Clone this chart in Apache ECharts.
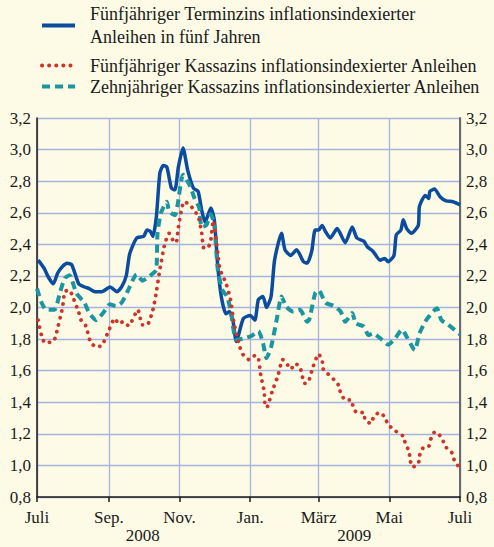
<!DOCTYPE html>
<html>
<head>
<meta charset="utf-8">
<script src="https://cdn.jsdelivr.net/npm/echarts@6/dist/echarts.min.js"></script>
<style>
  html, body { margin: 0; padding: 0; background: #fdfbe6; }
  #chart { width: 494px; height: 547px; }
</style>
</head>
<body>
<div id="chart"></div>
<script>
// Inflationsindexierte Anleihen, Juli 2008 – Juli 2009

const NAMES = [
  'Fünfjähriger Terminzins inflationsindexierter Anleihen in fünf Jahren',
  'Fünfjähriger Kassazins inflationsindexierter Anleihen',
  'Zehnjähriger Kassazins inflationsindexierter Anleihen',
];
const MONTHS = ['Jan.', 'Feb.', 'März', 'Apr.', 'Mai', 'Juni', 'Juli', 'Aug.', 'Sep.', 'Okt.', 'Nov.', 'Dez.'];
const YEARS = ['2008', '2009'];

const forward5y = [
  ['2008-07-02', 2.30], ['2008-07-07', 2.25], ['2008-07-11', 2.19], ['2008-07-15', 2.15],
  ['2008-07-19', 2.22], ['2008-07-23', 2.26], ['2008-07-27', 2.28], ['2008-07-31', 2.27],
  ['2008-08-06', 2.15], ['2008-08-11', 2.13], ['2008-08-15', 2.12], ['2008-08-20', 2.10],
  ['2008-08-26', 2.10], ['2008-09-02', 2.13], ['2008-09-08', 2.10], ['2008-09-12', 2.13],
  ['2008-09-16', 2.20], ['2008-09-19', 2.34], ['2008-09-25', 2.44], ['2008-10-01', 2.45],
  ['2008-10-04', 2.49], ['2008-10-07', 2.48], ['2008-10-09', 2.45], ['2008-10-12', 2.575],
  ['2008-10-15', 2.85], ['2008-10-18', 2.90], ['2008-10-21', 2.89], ['2008-10-25', 2.755],
  ['2008-10-28', 2.745], ['2008-10-31', 2.89], ['2008-11-04', 3.01], ['2008-11-08', 2.87],
  ['2008-11-13', 2.755], ['2008-11-17', 2.735], ['2008-11-20', 2.62], ['2008-11-23', 2.54],
  ['2008-11-25', 2.575], ['2008-11-28', 2.63], ['2008-12-01', 2.555], ['2008-12-04', 2.26],
  ['2008-12-07', 2.07], ['2008-12-11', 1.96], ['2008-12-14', 1.975], ['2008-12-17', 1.92],
  ['2008-12-20', 1.785], ['2008-12-26', 1.93], ['2009-01-01', 1.95], ['2009-01-05', 1.92],
  ['2009-01-08', 2.05], ['2009-01-12', 2.07], ['2009-01-15', 2.00], ['2009-01-19', 2.07],
  ['2009-01-22', 2.30], ['2009-01-28', 2.47], ['2009-01-31', 2.365], ['2009-02-05', 2.33],
  ['2009-02-10', 2.365], ['2009-02-16', 2.29], ['2009-02-19', 2.28], ['2009-02-23', 2.355],
  ['2009-02-26', 2.49], ['2009-03-01', 2.49], ['2009-03-04', 2.52], ['2009-03-07', 2.48],
  ['2009-03-11', 2.44], ['2009-03-17', 2.50], ['2009-03-24', 2.41], ['2009-03-30', 2.51],
  ['2009-04-03', 2.44], ['2009-04-09', 2.42], ['2009-04-12', 2.385], ['2009-04-17', 2.355],
  ['2009-04-23', 2.30], ['2009-04-27', 2.31], ['2009-04-30', 2.29], ['2009-05-05', 2.33],
  ['2009-05-07', 2.46], ['2009-05-11', 2.49], ['2009-05-13', 2.555], ['2009-05-16', 2.50],
  ['2009-05-20', 2.47], ['2009-05-26', 2.52], ['2009-05-27', 2.64], ['2009-06-01', 2.71],
  ['2009-06-04', 2.69], ['2009-06-05', 2.735], ['2009-06-09', 2.75], ['2009-06-14', 2.70],
  ['2009-06-19', 2.675], ['2009-06-25', 2.67], ['2009-07-01', 2.65],
];

const spot5y = [
  ['2008-07-02', 1.92], ['2008-07-05', 1.82], ['2008-07-08', 1.775], ['2008-07-12', 1.78],
  ['2008-07-16', 1.795], ['2008-07-18', 1.845], ['2008-07-23', 2.00], ['2008-07-25', 2.10],
  ['2008-07-29', 2.11], ['2008-08-01', 2.065], ['2008-08-06', 1.97], ['2008-08-08', 1.92],
  ['2008-08-12', 1.885], ['2008-08-16', 1.785], ['2008-08-21', 1.75], ['2008-08-26', 1.76],
  ['2008-09-01', 1.855], ['2008-09-06', 1.93], ['2008-09-10', 1.895], ['2008-09-13', 1.91],
  ['2008-09-18', 1.885], ['2008-09-26', 1.985], ['2008-09-30', 1.89], ['2008-10-04', 1.89],
  ['2008-10-09', 1.985], ['2008-10-12', 2.10], ['2008-10-15', 2.24], ['2008-10-19', 2.395],
  ['2008-10-23', 2.47], ['2008-10-26', 2.43], ['2008-10-29', 2.41], ['2008-10-31', 2.51],
  ['2008-11-05', 2.67], ['2008-11-10', 2.65], ['2008-11-14', 2.61], ['2008-11-17', 2.58],
  ['2008-11-20', 2.48], ['2008-11-22', 2.375], ['2008-11-26', 2.385], ['2008-11-28', 2.43],
  ['2008-11-30', 2.55], ['2008-12-04', 2.345], ['2008-12-06', 2.24], ['2008-12-11', 2.155],
  ['2008-12-15', 2.05], ['2008-12-18', 1.90], ['2008-12-23', 1.75], ['2008-12-26', 1.70],
  ['2008-12-31', 1.67], ['2009-01-05', 1.695], ['2009-01-08', 1.68], ['2009-01-10', 1.575],
  ['2009-01-13', 1.47], ['2009-01-14', 1.37], ['2009-01-16', 1.375], ['2009-01-20', 1.47],
  ['2009-01-25', 1.57], ['2009-01-29', 1.67], ['2009-02-01', 1.65], ['2009-02-05', 1.61],
  ['2009-02-09', 1.645], ['2009-02-13', 1.62], ['2009-02-17', 1.52], ['2009-02-20', 1.525],
  ['2009-02-24', 1.62], ['2009-03-01', 1.705], ['2009-03-04', 1.665], ['2009-03-05', 1.61],
  ['2009-03-09', 1.58], ['2009-03-14', 1.545], ['2009-03-18', 1.51], ['2009-03-20', 1.46],
  ['2009-03-24', 1.415], ['2009-03-29', 1.415], ['2009-03-31', 1.365], ['2009-04-03', 1.335],
  ['2009-04-09', 1.335], ['2009-04-10', 1.29], ['2009-04-15', 1.265], ['2009-04-18', 1.315],
  ['2009-04-23', 1.335], ['2009-04-27', 1.305], ['2009-04-30', 1.26], ['2009-05-05', 1.225],
  ['2009-05-09', 1.205], ['2009-05-13', 1.185], ['2009-05-15', 1.135], ['2009-05-18', 1.09],
  ['2009-05-19', 1.035], ['2009-05-21', 0.99], ['2009-05-26', 1.01], ['2009-05-27', 1.06],
  ['2009-05-30', 1.11], ['2009-06-04', 1.12], ['2009-06-06', 1.17], ['2009-06-09', 1.21],
  ['2009-06-12', 1.205], ['2009-06-16', 1.16], ['2009-06-19', 1.115], ['2009-06-24', 1.08],
  ['2009-06-26', 1.035], ['2009-06-30', 0.99],
];

const spot10y = [
  ['2008-07-01', 2.12], ['2008-07-05', 2.03], ['2008-07-09', 1.985], ['2008-07-16', 1.985],
  ['2008-07-21', 2.10], ['2008-07-25', 2.185], ['2008-07-29', 2.205], ['2008-08-04', 2.09],
  ['2008-08-11', 2.03], ['2008-08-15', 1.965], ['2008-08-21', 1.92], ['2008-08-27', 1.965],
  ['2008-09-02', 2.02], ['2008-09-07', 2.01], ['2008-09-12', 2.03], ['2008-09-17', 2.10],
  ['2008-09-25', 2.21], ['2008-09-30', 2.17], ['2008-10-09', 2.215], ['2008-10-12', 2.24],
  ['2008-10-13', 2.47], ['2008-10-16', 2.60], ['2008-10-21', 2.67], ['2008-10-23', 2.61],
  ['2008-10-28', 2.585], ['2008-10-31', 2.68], ['2008-11-02', 2.785], ['2008-11-04', 2.84],
  ['2008-11-10', 2.77], ['2008-11-14', 2.69], ['2008-11-18', 2.63], ['2008-11-20', 2.51],
  ['2008-11-24', 2.52], ['2008-11-28', 2.59], ['2008-12-01', 2.52], ['2008-12-04', 2.24],
  ['2008-12-08', 2.11], ['2008-12-12', 2.07], ['2008-12-15', 1.985], ['2008-12-20', 1.795],
  ['2008-12-27', 1.805], ['2009-01-02', 1.82], ['2009-01-08', 1.85], ['2009-01-12', 1.775],
  ['2009-01-15', 1.68], ['2009-01-19', 1.75], ['2009-01-24', 1.93], ['2009-01-28', 2.07],
  ['2009-02-01', 2.005], ['2009-02-07', 1.975], ['2009-02-13', 1.985], ['2009-02-19', 1.91],
  ['2009-02-21', 1.925], ['2009-02-26', 2.09], ['2009-03-01', 2.11], ['2009-03-07', 2.03],
  ['2009-03-14', 2.01], ['2009-03-20', 1.975], ['2009-03-24', 1.91], ['2009-03-30', 1.965],
  ['2009-04-02', 1.90], ['2009-04-09', 1.88], ['2009-04-13', 1.825], ['2009-04-17', 1.835],
  ['2009-04-25', 1.795], ['2009-04-30', 1.765], ['2009-05-06', 1.805], ['2009-05-12', 1.86],
  ['2009-05-16', 1.815], ['2009-05-23', 1.73], ['2009-05-27', 1.835], ['2009-06-01', 1.91],
  ['2009-06-05', 1.95], ['2009-06-11', 1.995], ['2009-06-15', 1.92], ['2009-06-21', 1.89],
  ['2009-06-30', 1.835], ['2009-07-01', 1.83],
];

const FONT = '"Liberation Serif", "Times New Roman", serif';
const INK = '#1a1a1a';
const GRID = '#a7b3df';
const BLUE = '#0b4c9f';
const RED = '#cf3429';
const TEAL = '#1b96a0';

const comma = v => v.toFixed(1).replace('.', ',');
const yLabel = { fontFamily: FONT, fontSize: 17, color: INK, margin: 6, formatter: comma };

// legend text: 18px serif, icon drawn as line only (symbol hidden)
const LEGEND_BASE = {
  orient: 'vertical',
  left: 35,
  itemWidth: 33,
  itemHeight: 10,
  itemGap: 0,
  selectedMode: false,
  itemStyle: { opacity: 0 },
  lineStyle: { width: 4 },
  textStyle: { fontFamily: FONT, fontSize: 18, lineHeight: 21, color: INK, padding: [0, 0, 0, 10] },
};

const chart = echarts.init(document.getElementById('chart'), null, { renderer: 'svg' });

chart.setOption({
  backgroundColor: '#fdfbe6',
  animation: false,
  textStyle: { fontFamily: FONT },
  grid: { left: 37, right: 34, top: 118, bottom: 50, outerBoundsMode: 'none' },
  legend: [
    {
      ...LEGEND_BASE,
      top: -14,
      textStyle: { ...LEGEND_BASE.textStyle, lineHeight: 23, padding: [23, 0, 0, 10] },
      data: [NAMES[0]],
      formatter: () => 'Fünfjähriger Terminzins inflationsindexierter\nAnleihen in fünf Jahren',
    },
    {
      ...LEGEND_BASE,
      top: 50,
      data: [NAMES[1], NAMES[2]],
    },
  ],
  xAxis: [
    {
      type: 'time',
      min: '2008-07-01',
      max: '2009-07-01',
      minInterval: 61 * 864e5,
      maxInterval: 80 * 864e5,
      axisLine: { lineStyle: { color: INK, width: 1.5 } },
      axisTick: { show: true, length: 5, lineStyle: { color: INK, width: 1.5 } },
      splitLine: { show: true, lineStyle: { color: GRID, width: 1.3 } },
      axisLabel: {
        fontFamily: FONT, fontSize: 17, color: INK, margin: 12,
        formatter: v => MONTHS[new Date(v).getMonth()],
      },
    },
    {
      type: 'category',
      data: YEARS,
      position: 'bottom',
      offset: 20,
      axisLine: { show: false },
      axisTick: { show: false },
      axisLabel: { fontFamily: FONT, fontSize: 17, color: INK, margin: 10 },
    },
  ],
  yAxis: [
    {
      type: 'value', min: 0.8, max: 3.2, interval: 0.2, position: 'left',
      axisLine: { show: true, lineStyle: { color: INK, width: 1.5 } },
      axisTick: { show: false },
      splitLine: { lineStyle: { color: GRID, width: 1.3 } },
      axisLabel: yLabel,
    },
    {
      type: 'value', min: 0.8, max: 3.2, interval: 0.2, position: 'right',
      axisLine: { show: true, lineStyle: { color: '#6a6a6a', width: 2 } },
      axisTick: { show: false },
      splitLine: { show: false },
      axisLabel: yLabel,
    },
  ],
  series: [
    {
      name: NAMES[0], type: 'line', data: forward5y, symbol: 'none', smooth: 0.2,
      lineStyle: { color: BLUE, width: 3.5 }, itemStyle: { color: BLUE }, z: 2,
    },
    {
      name: NAMES[2], type: 'line', data: spot10y, symbol: 'none', smooth: 0.2,
      lineStyle: { color: TEAL, width: 4, type: [8, 5] }, itemStyle: { color: TEAL }, z: 3,
    },
    {
      name: NAMES[1], type: 'line', data: spot5y, symbol: 'none', smooth: 0.2,
      lineStyle: { color: RED, width: 3.8, type: [0.1, 7], cap: 'round' }, itemStyle: { color: RED }, z: 4,
    },
  ],
});
</script>
</body>
</html>
